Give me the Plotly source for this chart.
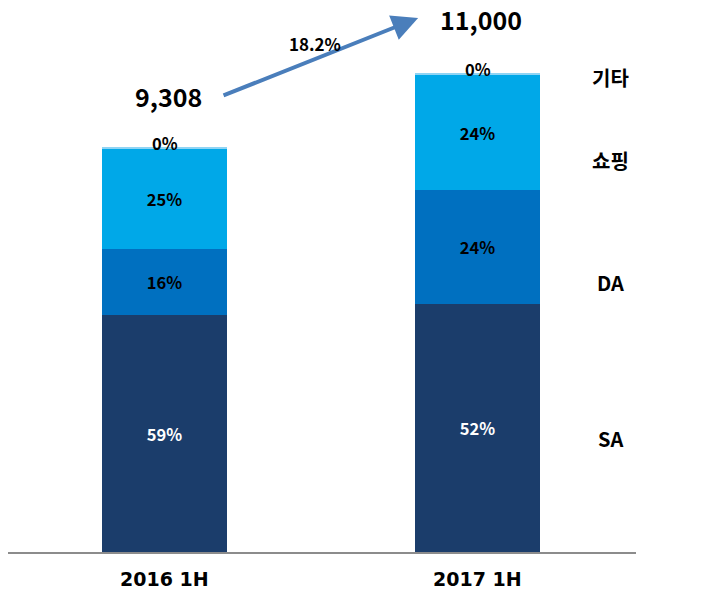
import plotly.graph_objects as go

categories = ["2016 1H", "2017 1H"]
totals = [9308, 11000]
totals_text = ["9,308", "11,000"]
growth_text = "18.2%"

series_names = ["SA", "DA", "쇼핑", "기타"]
sa_values = [5450, 5700]
da_values = [1500, 2620]
shop_values = [2310, 2630]
etc_values = [48, 50]

sa_pct = ["59%", "52%"]
da_pct = ["16%", "24%"]
shop_pct = ["25%", "24%"]
etc_pct = ["0%", "0%"]

colors = ["#1B3D6B", "#0070C0", "#00A8E8", "#8FD4F4"]
text_colors = ["white", "black", "black", "black"]

FONT = "Noto Sans CJK KR"
xpos = [0, 1]

fig = go.Figure()
for name, vals, pct, col, tcol in zip(series_names,
                                      [sa_values, da_values, shop_values, etc_values],
                                      [sa_pct, da_pct, shop_pct, etc_pct],
                                      colors, text_colors):
    is_etc = name == "기타"
    fig.add_trace(go.Bar(
        x=xpos, y=vals, name=name, width=0.4,
        marker=dict(color=col, line=dict(width=0)),
        text=None if is_etc else ["<b>%s</b>" % p for p in pct],
        textposition="none" if is_etc else "inside",
        insidetextanchor="middle",
        textangle=0,
        insidetextfont=dict(family=FONT, size=16.5, color=tcol),
        hoverinfo="skip",
    ))

annotations = []
# 0% labels on top of bars
for x, tot, t in zip(xpos, totals, etc_pct):
    annotations.append(dict(x=x, y=tot, xref="x", yref="y", text="<b>%s</b>" % t,
                            showarrow=False, yanchor="middle", yshift=4,
                            font=dict(family=FONT, size=16.5, color="black")))

# category labels
for x, c in zip(xpos, categories):
    annotations.append(dict(x=x, y=0, xref="x", yref="paper", text="<b>%s</b>" % c,
                            showarrow=False, yanchor="middle", yshift=-27,
                            font=dict(family="DejaVu Sans", size=19, color="black")))

# total labels
annotations.append(dict(x=0.013, y=10472, xref="x", yref="y", text="<b>%s</b>" % totals_text[0],
                        showarrow=False, font=dict(family=FONT, size=25, color="black")))
annotations.append(dict(x=1.01, y=12250, xref="x", yref="y", text="<b>%s</b>" % totals_text[1],
                        showarrow=False, font=dict(family=FONT, size=25, color="black")))

# growth arrow
annotations.append(dict(x=0.81, y=12263, ax=0.1837, ay=10472, xref="x", yref="y",
                        axref="x", ayref="y", text="", showarrow=True,
                        arrowhead=2, arrowsize=1.3, arrowwidth=4, arrowcolor="#4A7EBB"))
annotations.append(dict(x=0.48, y=11670, xref="x", yref="y", text="<b>%s</b>" % growth_text,
                        showarrow=False, font=dict(family=FONT, size=17, color="black")))

# right-side series labels
label_y = {"기타": 10908, "쇼핑": 9002, "DA": 6200, "SA": 2618}
for name in series_names:
    annotations.append(dict(x=1.423, y=label_y[name], xref="x", yref="y",
                            text="<b>%s</b>" % name, showarrow=False,
                            font=dict(family=FONT, size=20, color="black")))

fig.update_layout(
    width=726, height=591,
    margin=dict(l=8, r=90, t=10, b=39),
    paper_bgcolor="white", plot_bgcolor="white",
    barmode="stack", bargap=0,
    showlegend=False,
    annotations=annotations,
    xaxis=dict(range=[-0.5, 1.506], tickvals=xpos, ticktext=["", ""],
               showline=True, linecolor="#8C8C8C", linewidth=2, ticks="", showgrid=False,
               zeroline=False, fixedrange=True),
    yaxis=dict(range=[0, 12447], visible=False, showgrid=False, zeroline=False, fixedrange=True),
)

fig.write_html("out.html")
